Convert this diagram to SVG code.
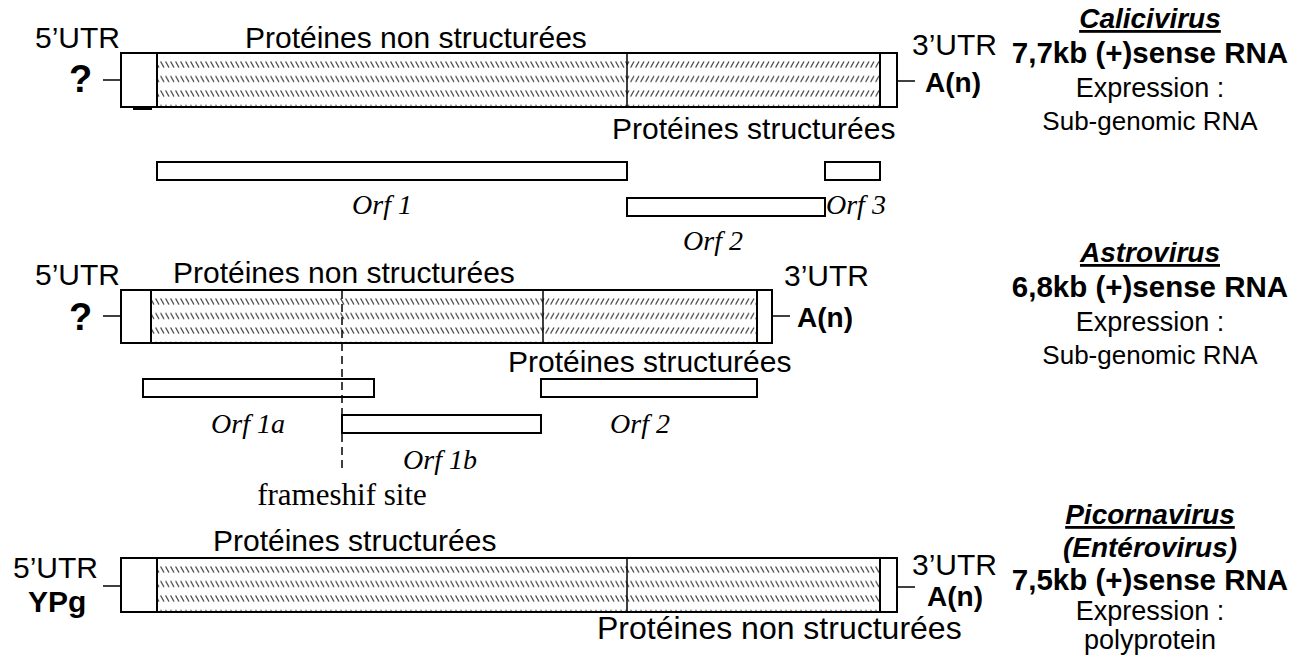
<svg xmlns="http://www.w3.org/2000/svg" width="1302" height="655" viewBox="0 0 1302 655">
<style>
.t{font-family:"Liberation Sans",Arial,sans-serif;font-size:30px;fill:#000}
.r{font-size:27px}
.s{font-size:26px}
.b{font-weight:bold}
.k{font-size:29.5px}
.q{font-size:38px}
.a{font-size:28px}
.w{font-size:32px}
.h{font-weight:bold;font-style:italic;text-decoration:underline;font-size:28px}
.i{font-weight:bold;font-style:italic;font-size:28px}
.c{text-anchor:middle}
.o{font-family:"Liberation Serif","Times New Roman",serif;font-size:28px;font-style:italic;fill:#000}
.f{font-family:"Liberation Serif","Times New Roman",serif;font-size:31px;fill:#000}
.box{fill:#fff;stroke:#000;stroke-width:2}
.ln{stroke:#000;stroke-width:1.5;fill:none}
.dv{stroke:#000;stroke-width:2}
</style>
<defs>
<pattern id="bs" patternUnits="userSpaceOnUse" x="0" y="8" width="5" height="14.5">
<line x1="0.6" y1="0.5" x2="4" y2="6.5" stroke="#444" stroke-width="1.3"/>
</pattern>
<pattern id="fs" patternUnits="userSpaceOnUse" x="0" y="8" width="5" height="14.5">
<line x1="0.6" y1="6.5" x2="4" y2="0.5" stroke="#444" stroke-width="1.3"/>
</pattern>
</defs>

<g id="calicivirus">
<g transform="translate(0,53)">
<rect class="box" x="121" y="0" width="776" height="54"/>
<rect x="157" y="1" width="470" height="52" fill="url(#bs)"/>
<rect x="627" y="1" width="253" height="52" fill="url(#fs)"/>
<line class="dv" x1="157" y1="0" x2="157" y2="54"/>
<line class="ln" x1="627" y1="0" x2="627" y2="54"/>
<line class="dv" x1="880" y1="0" x2="880" y2="54"/>
<rect x="121" y="0" width="776" height="54" fill="none" stroke="#000" stroke-width="2"/>
</g>
<line class="ln" x1="103" y1="80" x2="121" y2="80"/>
<line class="ln" x1="897" y1="81" x2="915" y2="81"/>
<line x1="133" y1="109" x2="152" y2="109" stroke="#000" stroke-width="2"/>
<text class="t" x="35" y="48">5’UTR</text>
<text class="t b q" x="69" y="92">?</text>
<text class="t" x="245" y="48">Protéines non structurées</text>
<text class="t" x="912" y="55">3’UTR</text>
<text class="t b a" x="925" y="92">A(n)</text>
<text class="t" x="612" y="139">Protéines structurées</text>
<rect class="box" x="157" y="162" width="470" height="18"/>
<rect class="box" x="825" y="162" width="55" height="18"/>
<rect class="box" x="627" y="198" width="198" height="18"/>
<text class="o c" x="382" y="214">Orf 1</text>
<text class="o" x="826" y="214">Orf 3</text>
<text class="o c" x="713" y="250">Orf 2</text>
<text class="t h c" x="1150" y="28">Calicivirus</text>
<text class="t b k c" x="1150" y="63">7,7kb (+)sense RNA</text>
<text class="t r c" x="1150" y="97">Expression :</text>
<text class="t s c" x="1150" y="130">Sub-genomic RNA</text>
</g>

<g id="astrovirus">
<g transform="translate(0,290)">
<rect class="box" x="121" y="0" width="651" height="53"/>
<rect x="151" y="1" width="392" height="51" fill="url(#bs)"/>
<rect x="543" y="1" width="214" height="51" fill="url(#fs)"/>
<line class="dv" x1="151" y1="0" x2="151" y2="53"/>
<line class="ln" x1="543" y1="0" x2="543" y2="53"/>
<line class="dv" x1="757" y1="0" x2="757" y2="53"/>
<rect x="121" y="0" width="651" height="53" fill="none" stroke="#000" stroke-width="2"/>
</g>
<line class="ln" x1="103" y1="316" x2="121" y2="316"/>
<line class="ln" x1="772" y1="316" x2="790" y2="316"/>
<text class="t" x="35" y="285">5’UTR</text>
<text class="t b q" x="69" y="330">?</text>
<text class="t" x="173" y="283">Protéines non structurées</text>
<text class="t" x="784" y="286">3’UTR</text>
<text class="t b a" x="797" y="327">A(n)</text>
<text class="t" x="508" y="372">Protéines structurées</text>
<rect class="box" x="143" y="379" width="231" height="18"/>
<rect class="box" x="541" y="379" width="216" height="18"/>
<rect class="box" x="342" y="415" width="199" height="18"/>
<text class="o c" x="248" y="433">Orf 1a</text>
<text class="o c" x="640" y="433">Orf 2</text>
<text class="o c" x="440" y="469">Orf 1b</text>
<line x1="342" y1="291" x2="342" y2="470" stroke="#000" stroke-width="1.5" stroke-dasharray="8,5"/>
<text class="f c" x="342" y="505">frameshif site</text>
<text class="t h c" x="1150" y="262">Astrovirus</text>
<text class="t b k c" x="1150" y="297">6,8kb (+)sense RNA</text>
<text class="t r c" x="1150" y="331">Expression :</text>
<text class="t s c" x="1150" y="364">Sub-genomic RNA</text>
</g>

<g id="picornavirus">
<g transform="translate(0,558)">
<rect class="box" x="121" y="0" width="776" height="54"/>
<rect x="157" y="1" width="723" height="52" fill="url(#bs)"/>
<line class="dv" x1="157" y1="0" x2="157" y2="54"/>
<line class="ln" x1="627" y1="0" x2="627" y2="54"/>
<line class="dv" x1="880" y1="0" x2="880" y2="54"/>
<rect x="121" y="0" width="776" height="54" fill="none" stroke="#000" stroke-width="2"/>
</g>
<line class="ln" x1="103" y1="586" x2="121" y2="586"/>
<line class="ln" x1="897" y1="587" x2="915" y2="587"/>
<text class="t" x="13" y="578">5’UTR</text>
<text class="t b" x="28" y="612">YPg</text>
<text class="t" x="213" y="551">Protéines structurées</text>
<text class="t" x="912" y="575">3’UTR</text>
<text class="t b a" x="927" y="606">A(n)</text>
<text class="t w" x="597" y="639">Protéines non structurées</text>
<text class="t h c" x="1150" y="524">Picornavirus</text>
<text class="t i c" x="1150" y="557">(Entérovirus)</text>
<text class="t b k c" x="1150" y="590">7,5kb (+)sense RNA</text>
<text class="t r c" x="1150" y="620">Expression :</text>
<text class="t r c" x="1150" y="649">polyprotein</text>
</g>
</svg>
